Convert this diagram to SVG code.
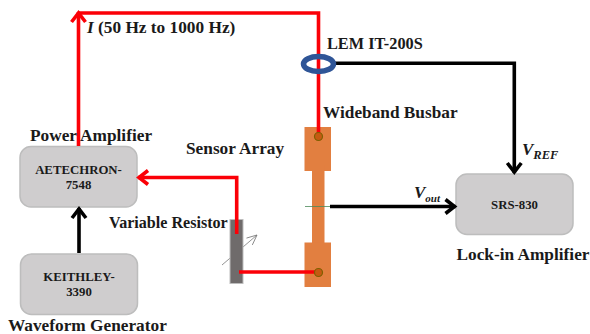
<svg xmlns="http://www.w3.org/2000/svg" width="590" height="334" viewBox="0 0 590 334">
<style>
text{font-family:"Liberation Serif","Times New Roman",serif;font-weight:bold;fill:#1a1a1a}
.l{font-size:17.300px}
.b{font-size:12.800px;text-anchor:middle}
.box{fill:#cfcdce;stroke:#bdbdbd;stroke-width:1.5}
.bar{fill:#e27f40}
.red{fill:none;stroke:#fb0007;stroke-width:3.600}
.blk{fill:none;stroke:#000;stroke-width:3.600}
.i{font-style:italic}
</style>
<defs>
<marker id="ar" markerUnits="userSpaceOnUse" markerWidth="20" markerHeight="20" refX="15" refY="10" orient="auto"><path d="M5 3L14 10L5 17" fill="none" stroke="#fb0007" stroke-width="3.600"/></marker>
<marker id="ak" markerUnits="userSpaceOnUse" markerWidth="20" markerHeight="20" refX="15" refY="10" orient="auto"><path d="M5 3L14 10L5 17" fill="none" stroke="#000" stroke-width="3.600"/></marker>
<marker id="ag" markerUnits="userSpaceOnUse" markerWidth="14" markerHeight="14" refX="11" refY="7" orient="auto"><path d="M1 2.500L11 7L1 11.500" fill="none" stroke="#777" stroke-width=".8"/></marker>
</defs>
<g id="busbar"><rect class="bar" x="304.500" y="127" width="26.500" height="44"/><rect class="bar" x="312" y="165" width="12.500" height="85"/><rect class="bar" x="304.500" y="242.500" width="26.500" height="44.500"/></g>
<g id="variable-resistor"><path d="M222 265L257 235" fill="none" stroke="#777" stroke-width=".8" marker-end="url(#ag)"/><rect x="230" y="219.500" width="13" height="64" fill="#6f6b6b" stroke="#bdbdbd"/></g>
<g id="power-amplifier"><rect class="box" x="20" y="146.500" width="117" height="60.500" rx="11"/><text class="b" x="78.500" y="174">AETECHRON-</text><text class="b" x="78.500" y="189">7548</text></g>
<g id="waveform-generator"><rect class="box" x="20.500" y="254" width="117" height="60.500" rx="11"/><text class="b" x="79" y="281">KEITHLEY-</text><text class="b" x="79" y="296">3390</text></g>
<g id="lock-in-amplifier"><rect class="box" x="456" y="174" width="117" height="60.500" rx="11"/><text class="b" x="514.500" y="209">SRS-830</text></g>
<g id="connectors">
<path class="red" d="M318.500 136V13H78.500"/>
<path class="red" d="M78.500 146V12" marker-end="url(#ar)"/>
<path class="red" d="M236.700 234V177.500H138" marker-end="url(#ar)"/>
<path class="red" d="M239 272H318"/>
<path class="blk" d="M79 253V208" marker-end="url(#ak)"/>
<path class="blk" d="M334 63.300H514.300V173" marker-end="url(#ak)"/>
<path class="blk" d="M330 206.500H455.500" marker-end="url(#ak)"/>
<path d="M305 206.500H330" stroke="#4d8a5a" stroke-width=".8"/>
</g>
<g id="sensor-marks"><circle cx="318.500" cy="136.500" r="4" fill="#c55a11" stroke="#7f6000" stroke-width="1.200"/><circle cx="318.500" cy="272.500" r="4" fill="#c55a11" stroke="#7f6000" stroke-width="1.200"/></g>
<g id="lem-sensor"><ellipse cx="318.500" cy="64" rx="15" ry="7.500" fill="none" stroke="#2f5597" stroke-width="5.500"/></g>
<g id="labels">
<text class="l" x="87" y="33"><tspan class="i">I</tspan> (50 Hz to 1000 Hz)</text>
<text class="l" x="30" y="141">Power Amplifier</text>
<text class="l" x="186" y="154">Sensor Array</text>
<text class="l" x="109" y="228" style="font-size:16.100px">Variable Resistor</text>
<text class="l" x="8" y="331">Waveform Generator</text>
<text class="l" x="327" y="49" style="font-size:16.300px">LEM IT-200S</text>
<text class="l" x="323" y="118">Wideband Busbar</text>
<text class="l" x="456.500" y="260">Lock-in Amplifier</text>
<text class="i" x="522" y="155" font-size="17">V<tspan font-size="12.500" dy="4">REF</tspan></text>
<text class="i" x="414" y="198" font-size="17">V<tspan font-size="11" dy="4">out</tspan></text>
</g>
</svg>
